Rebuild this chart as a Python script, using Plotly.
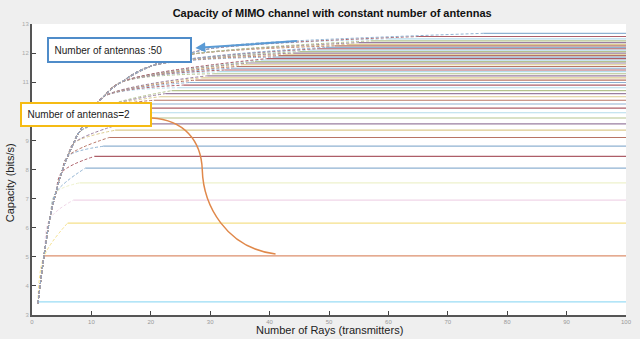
import plotly.graph_objects as go

TITLE = "Capacity of MIMO channel with constant number of antennas"
X_TITLE = "Number of Rays (transmitters)"
Y_TITLE = "Capacity (bits/s)"

# rising edge of the steepest (50 antenna) curve
ENVELOPE_X = [1, 2, 3, 4, 5, 6, 7, 8, 10, 12, 15, 20, 25, 30, 35, 45, 55, 65]
ENVELOPE_Y = [3.4, 5.0, 6.3, 7.2, 7.9, 8.45, 8.9, 9.3, 9.95, 10.5, 11.0, 11.55,
              11.9, 12.15, 12.3, 12.4, 12.48, 12.56]

ANTENNAS = list(range(1, 51))
# capacity each curve settles on
SAT_LEVEL = [3.45, 5.03, 6.16, 6.95, 7.54, 8.05, 8.45, 8.8, 9.1, 9.35,
             9.57, 9.77, 9.95, 10.11, 10.25, 10.38, 10.5, 10.61, 10.71, 10.81,
             10.9, 10.99, 11.07, 11.15, 11.22, 11.29, 11.36, 11.42, 11.48, 11.54,
             11.6, 11.66, 11.71, 11.76, 11.81, 11.86, 11.91, 11.96, 12.0, 12.05,
             12.1, 12.15, 12.2, 12.25, 12.3, 12.36, 12.42, 12.49, 12.57, 12.68]
# number of rays where each curve goes flat
SAT_RAYS = [1, 2, 6, 7, 8, 9, 10.5, 12, 13, 14,
            15, 16, 17, 18, 19, 20.5, 21.5, 22.5, 23.5, 24.5,
            25.5, 26.5, 27.5, 28.5, 29.5, 30.5, 31.5, 32.5, 33.5, 34.5,
            35.5, 36.5, 37.5, 38.5, 39.5, 40.5, 41.5, 42.5, 44, 45,
            46.5, 48, 49.5, 51, 53, 55, 57, 60, 65, 76]
MAX_RAYS = 100

FIRST_COLORS = ["#9adcf5", "#dc8f6c", "#f5e08a", "#f0d6e8", "#eef2cc", "#8fb2d2"]
CYCLE = ["#8fb2d2", "#b87464", "#dccb8e", "#9a7ea0", "#b5c38e", "#b4dbeb", "#ad5e68"]

W, H = 640, 339
L, R, T, B = 32, 8, 24, 24


def px_to_paper(px, py):
    return (px - L) / (W - L - R), (H - B - py) / (H - T - B)


fig = go.Figure()
for i, n in enumerate(ANTENNAS):
    level, knee = SAT_LEVEL[i], SAT_RAYS[i]
    color = FIRST_COLORS[i] if i < len(FIRST_COLORS) else CYCLE[i % len(CYCLE)]
    rise = [(x, y) for x, y in zip(ENVELOPE_X, ENVELOPE_Y) if x <= knee / 2 and y < level]
    if rise:
        fig.add_trace(go.Scatter(
            x=[p[0] for p in rise] + [knee], y=[p[1] for p in rise] + [level],
            mode="lines", line=dict(color=color, width=1, dash="3px,2px", shape="spline"),
            showlegend=False, hoverinfo="skip"))
    fig.add_trace(go.Scatter(
        x=[knee, MAX_RAYS], y=[level, level], mode="lines",
        line=dict(color=color, width=1.2), name=f"{n} antennas", showlegend=False))

# callouts
bx, by = px_to_paper(47, 37)
yx, yy = px_to_paper(20, 102)
hx, hy = px_to_paper(197, 48)
pts = [(153, 118), (185, 120), (203, 140), (204, 170), (205, 205), (228, 248), (278, 254)]
pp = [px_to_paper(*p) for p in pts]
path = "M {0},{1} C {2},{3} {4},{5} {6},{7} C {8},{9} {10},{11} {12},{13}".format(
    *[c for p in pp for c in p])

fig.add_shape(type="path", path=path, xref="paper", yref="paper",
              line=dict(color="#e0884a", width=1.5))

fig.add_annotation(x=hx, y=hy, xref="paper", yref="paper", ax=103, ay=-7,
                   showarrow=True, arrowhead=2, arrowsize=1, arrowwidth=2,
                   arrowcolor="#5b9bd5", text="")
fig.add_annotation(x=bx, y=by, xref="paper", yref="paper", xanchor="left", yanchor="top",
                   text="&nbsp;&nbsp;Number of antennas :50", showarrow=False, align="left",
                   width=141, height=22, borderpad=0, borderwidth=2,
                   bordercolor="#4f8cc9", bgcolor="white",
                   font=dict(family="Liberation Sans", size=10, color="#222"))
fig.add_annotation(x=yx, y=yy, xref="paper", yref="paper", xanchor="left", yanchor="top",
                   text="&nbsp;&nbsp;Number of antennas=2", showarrow=False, align="left",
                   width=128, height=21, borderpad=0, borderwidth=2,
                   bordercolor="#f5bb14", bgcolor="white",
                   font=dict(family="Liberation Sans", size=10, color="#222"))

fig.add_annotation(x=0.5, y=px_to_paper(0, 330)[1], xref="paper", yref="paper",
                   text=X_TITLE, showarrow=False, yanchor="middle",
                   font=dict(family="Liberation Sans", size=11, color="#222"))
fig.add_annotation(x=px_to_paper(10, 0)[0], y=px_to_paper(0, 183)[1], xref="paper", yref="paper",
                   text=Y_TITLE, showarrow=False, textangle=-90, xanchor="center", yanchor="middle",
                   font=dict(family="Liberation Sans", size=11, color="#222"))

fig.update_layout(
    width=W, height=H,
    margin=dict(l=L, r=R, t=T, b=B),
    paper_bgcolor="#efefef", plot_bgcolor="white",
    title=dict(text=f"<b>{TITLE}</b>", x=0.519, y=1 - 13 / H, xanchor="center", yanchor="middle",
               font=dict(family="Liberation Sans", size=11, color="#111")),
    showlegend=False,
)
fig.update_xaxes(range=[0, 100], dtick=10, showgrid=False, zeroline=False,
                 showline=True, linecolor="#555", linewidth=2,
                 ticks="inside", ticklen=4, tickcolor="#444",
                 tickfont=dict(family="Liberation Sans", size=6, color="#999"))
fig.update_yaxes(range=[3, 13], dtick=1, showgrid=False, zeroline=False,
                 showline=True, linecolor="#555", linewidth=2,
                 ticks="inside", ticklen=4, tickcolor="#444",
                 tickfont=dict(family="Liberation Sans", size=6, color="#aaa"))

fig.write_html("out.html", config={"displayModeBar": False},
               post_script="document.body.style.margin='0';")
